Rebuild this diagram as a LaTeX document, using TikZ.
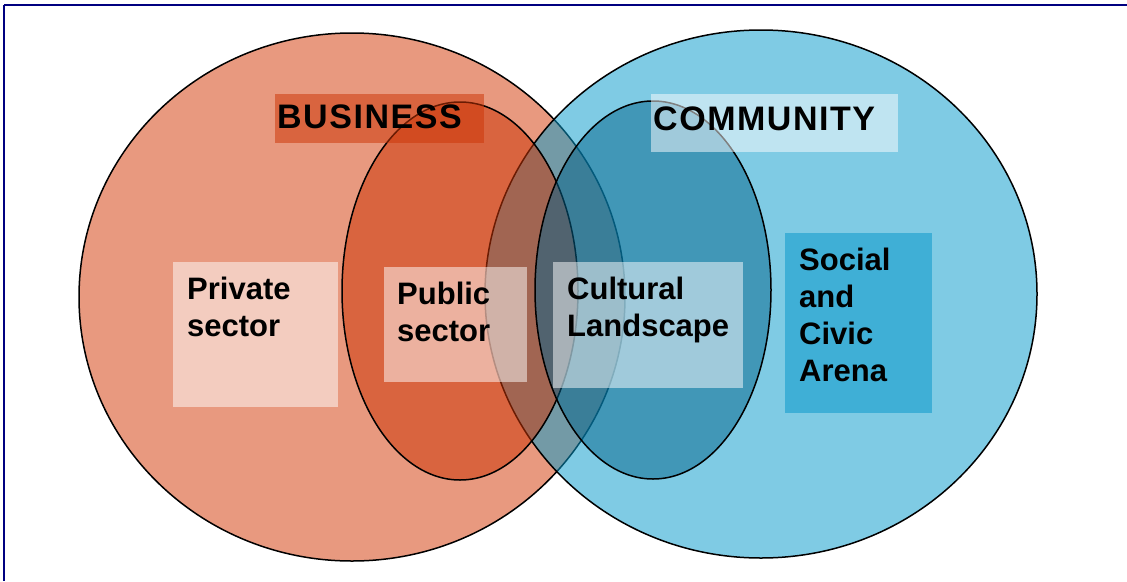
\documentclass[tikz,border=0pt]{standalone}
\usepackage{fontspec}
\setmainfont{Liberation Sans}
\newfontfamily\titlefont[LetterSpace=4.5]{Liberation Sans}
\definecolor{salmon}{RGB}{232,153,127}
\definecolor{bigblue}{RGB}{9,155,203}
\definecolor{redorange}{RGB}{204,53,6}
\definecolor{deepblue}{RGB}{3,99,140}
\definecolor{socialbox}{RGB}{63,175,214}
\definecolor{frame}{RGB}{0,0,128}
\begin{document}
\begin{tikzpicture}[x=1pt,y=-1pt,
  outline/.style={draw=black,line width=1.5pt},
  glass/.style={fill=white,fill opacity=0.5},
  lbl/.style={font=\bfseries\fontsize{31}{37}\selectfont,inner sep=0pt,anchor=base west},
  title/.style={font=\titlefont\bfseries\fontsize{34}{40}\selectfont,inner sep=0pt,anchor=base west}]
\useasboundingbox (0,0) rectangle (1127,581);
% frame
\draw[frame,line width=2pt] (4,4.5) -- (1127,4.5);
\draw[frame,line width=1.2pt] (4,4.5) -- (4,581);
% big circles
\path[outline,fill=salmon] (352,297) ellipse [x radius=273,y radius=264];
\path[outline,fill=bigblue,fill opacity=0.52] (761,294) ellipse [x radius=276,y radius=264];
% inner ellipses
\path[outline,fill=redorange,fill opacity=0.52] (460,291) ellipse [x radius=118,y radius=189];
\path[outline,fill=deepblue,fill opacity=0.5] (653,290) ellipse [x radius=118,y radius=189];
% title boxes
\fill[redorange,fill opacity=0.52] (275,94) rectangle (484,143);
\fill[glass] (651,94) rectangle (898,152);
% label boxes
\fill[glass] (173,262) rectangle (338,407);
\fill[glass] (384,267) rectangle (527,382);
\fill[glass] (553,262) rectangle (743,388);
\fill[socialbox] (785,233) rectangle (932,413);
% titles
\node[title] (business) at (277,128) {BUSINESS};
\node[title] (community) at (653,130) {COMMUNITY};
% labels
\node[lbl] (priv1) at (187,299) {Private};
\node[lbl] (priv2) at (187,336) {sector};
\node[lbl] (pub1) at (397,304) {Public};
\node[lbl] (pub2) at (397,341) {sector};
\node[lbl] (cult1) at (567,299) {Cultural};
\node[lbl] (cult2) at (567,336) {Landscape};
\node[lbl] (soc1) at (799,270) {Social};
\node[lbl] (soc2) at (799,307) {and};
\node[lbl] (soc3) at (799,344) {Civic};
\node[lbl] (soc4) at (799,381) {Arena};
\end{tikzpicture}
\end{document}
